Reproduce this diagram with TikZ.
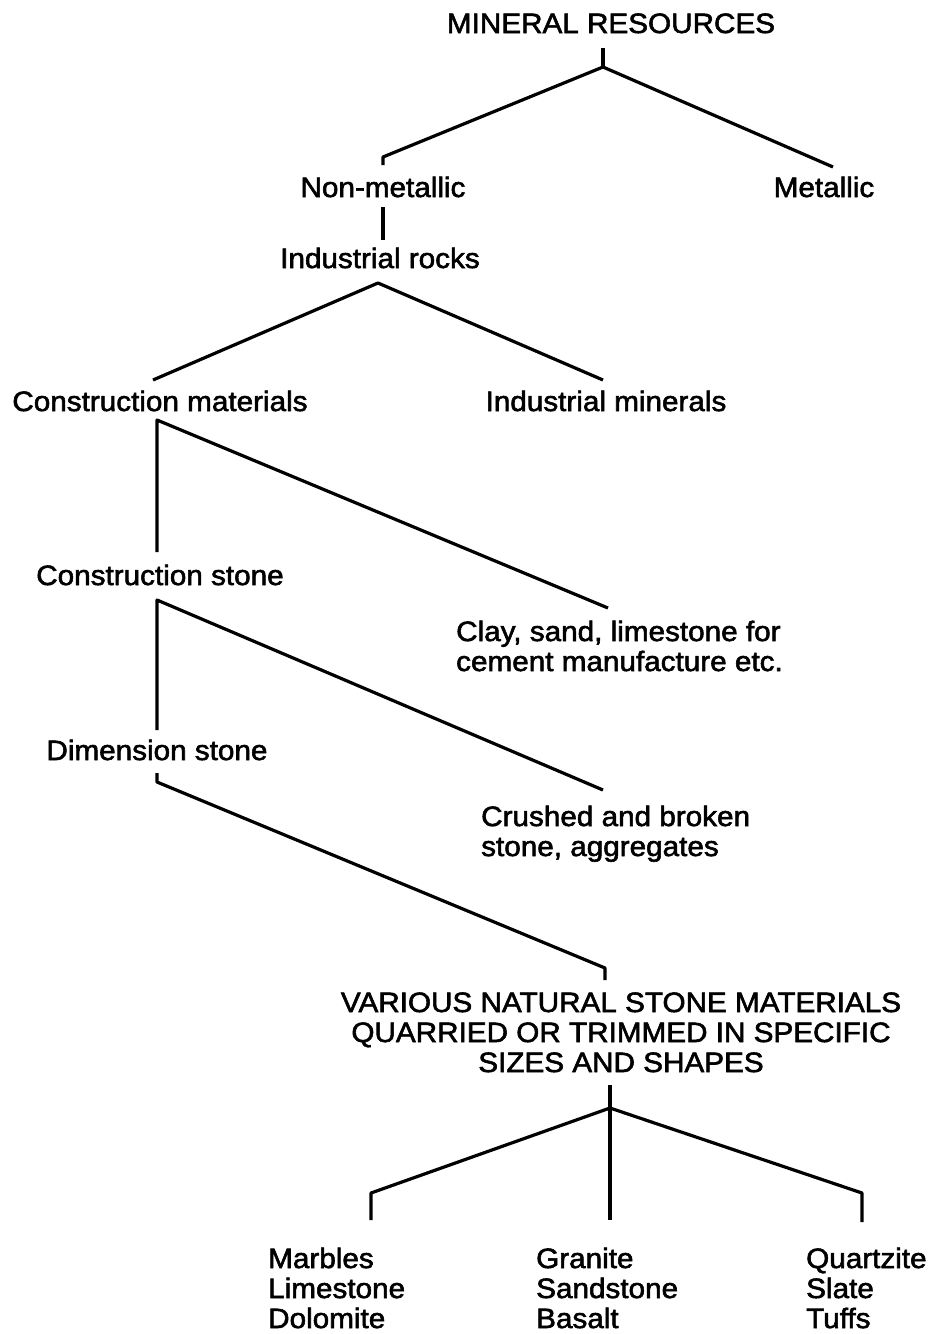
\documentclass[tikz,border=0pt]{standalone}
\usepackage{fontspec}
\setmainfont[FakeStretch=1.06,FakeBold=2]{Liberation Sans}
\begin{document}
\begin{tikzpicture}[x=1pt,y=-1pt,
  lbl/.style={inner sep=0pt, font=\fontsize{28}{30}\selectfont},
  multi/.style={lbl, align=left},
  link/.style={line width=3.2pt, line join=round}]
\useasboundingbox (0,0) rectangle (933,1334);
% labels
\node[lbl, anchor=base] (mr) at (611,33) {MINERAL RESOURCES};
\node[lbl, anchor=base] (nm) at (383,197) {Non-metallic};
\node[lbl, anchor=base] (met) at (824,197) {Metallic};
\node[lbl, anchor=base] (ir) at (380,268) {Industrial rocks};
\node[lbl, anchor=base] (cm) at (160,411) {Construction materials};
\node[lbl, anchor=base] (im) at (606,411) {Industrial minerals};
\node[lbl, anchor=base] (cs) at (160,585) {Construction stone};
\node[multi, anchor=base west] (clay) at (456,671) {Clay, sand, limestone for\\cement manufacture etc.};
\node[lbl, anchor=base] (ds) at (157,760) {Dimension stone};
\node[multi, anchor=base west] (cr) at (481,856) {Crushed and broken\\stone, aggregates};
\node[lbl, align=center, anchor=base] (var) at (621,1072) {VARIOUS NATURAL STONE MATERIALS\\QUARRIED OR TRIMMED IN SPECIFIC\\SIZES AND SHAPES};
\node[multi, anchor=base west] (b1) at (268,1328) {Marbles\\Limestone\\Dolomite};
\node[multi, anchor=base west] (b2) at (536,1328) {Granite\\Sandstone\\Basalt};
\node[multi, anchor=base west] (b3) at (806,1328) {Quartzite\\Slate\\Tuffs};
% junction coordinates
\coordinate (mr-s) at (603,48);
\coordinate (mr-j) at (603,67);
\coordinate (nm-k) at (383,157);
\coordinate (nm-n) at (383,165);
\coordinate (met-n) at (833,167);
\coordinate (nm-s) at (383,207);
\coordinate (ir-n) at (383,240);
\coordinate (ir-j) at (378,283);
\coordinate (cm-n) at (153,380);
\coordinate (im-n) at (603,380);
\coordinate (cm-j) at (157,420);
\coordinate (cs-n) at (157,552);
\coordinate (clay-n) at (608,608);
\coordinate (cs-j) at (157,600);
\coordinate (ds-n) at (157,730);
\coordinate (cr-n) at (603,790);
\coordinate (ds-s) at (157,773);
\coordinate (ds-k) at (157,782);
\coordinate (var-k) at (605,968);
\coordinate (var-n) at (605,980);
\coordinate (var-s) at (610,1085);
\coordinate (var-j) at (610,1108);
\coordinate (b1-k) at (371,1193);
\coordinate (b1-n) at (371,1220);
\coordinate (b2-n) at (610,1220);
\coordinate (b3-k) at (862,1193);
\coordinate (b3-n) at (862,1222);
% connectors
\draw[link] (mr-s) -- (mr-j);
\draw[link] (nm-n) -- (nm-k) -- (mr-j) -- (met-n);
\draw[link] (nm-s) -- (ir-n);
\draw[link] (cm-n) -- (ir-j) -- (im-n);
\draw[link] (cs-n) -- (cm-j) -- (clay-n);
\draw[link] (ds-n) -- (cs-j) -- (cr-n);
\draw[link] (ds-s) -- (ds-k) -- (var-k) -- (var-n);
\draw[link] (var-s) -- (var-j);
\draw[link] (b1-n) -- (b1-k) -- (var-j) -- (b3-k) -- (b3-n);
\draw[link] (var-j) -- (b2-n);
\end{tikzpicture}
\end{document}
